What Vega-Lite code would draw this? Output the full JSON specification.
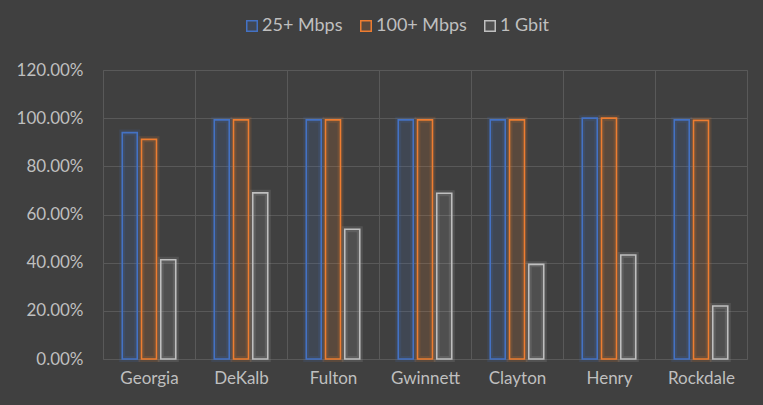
{
  "$schema": "https://vega.github.io/schema/vega-lite/v6.json",
  "width": 644,
  "height": 289,
  "autosize": {"type": "none"},
  "padding": {"left": 103, "top": 70, "right": 16, "bottom": 46},
  "background": "#404040",
  "config": {
    "font": "Lato",
    "view": {"stroke": "#595959", "strokeWidth": 1},
    "axis": {"labelColor": "#BFBFBF", "labelFontSize": 17, "gridColor": "#595959", "gridWidth": 1, "domain": false, "ticks": false, "tickSize": 0, "title": null}
  },
  "data": {
    "values": [
      {"county": "Georgia", "speed": "25+ Mbps", "value": 0.940},
      {"county": "Georgia", "speed": "100+ Mbps", "value": 0.912},
      {"county": "Georgia", "speed": "1 Gbit", "value": 0.412},
      {"county": "DeKalb", "speed": "25+ Mbps", "value": 0.993},
      {"county": "DeKalb", "speed": "100+ Mbps", "value": 0.993},
      {"county": "DeKalb", "speed": "1 Gbit", "value": 0.690},
      {"county": "Fulton", "speed": "25+ Mbps", "value": 0.993},
      {"county": "Fulton", "speed": "100+ Mbps", "value": 0.993},
      {"county": "Fulton", "speed": "1 Gbit", "value": 0.539},
      {"county": "Gwinnett", "speed": "25+ Mbps", "value": 0.993},
      {"county": "Gwinnett", "speed": "100+ Mbps", "value": 0.993},
      {"county": "Gwinnett", "speed": "1 Gbit", "value": 0.688},
      {"county": "Clayton", "speed": "25+ Mbps", "value": 0.993},
      {"county": "Clayton", "speed": "100+ Mbps", "value": 0.993},
      {"county": "Clayton", "speed": "1 Gbit", "value": 0.393},
      {"county": "Henry", "speed": "25+ Mbps", "value": 1.0},
      {"county": "Henry", "speed": "100+ Mbps", "value": 1.0},
      {"county": "Henry", "speed": "1 Gbit", "value": 0.432},
      {"county": "Rockdale", "speed": "25+ Mbps", "value": 0.993},
      {"county": "Rockdale", "speed": "100+ Mbps", "value": 0.991},
      {"county": "Rockdale", "speed": "1 Gbit", "value": 0.220}
    ]
  },
  "encoding": {
    "x": {
      "field": "county", "type": "nominal", "sort": null,
      "scale": {"paddingInner": 0, "paddingOuter": 0},
      "axis": {"labelAngle": 0, "tickBand": "extent", "grid": true, "labelPadding": 11}
    },
    "xOffset": {
      "field": "speed", "type": "nominal",
      "sort": ["25+ Mbps", "100+ Mbps", "1 Gbit"],
      "scale": {"paddingInner": 0.22, "paddingOuter": 1.0}
    },
    "y": {
      "field": "value", "type": "quantitative",
      "scale": {"domain": [0, 1.2], "nice": false},
      "axis": {"values": [0, 0.2, 0.4, 0.6, 0.8, 1.0, 1.2], "format": ".2%", "grid": true, "labelPadding": 20}
    }
  },
  "layer": [
    {
      "mark": {"type": "bar", "filled": false, "strokeWidth": 6, "strokeOpacity": 0.15},
      "encoding": {
        "stroke": {"field": "speed", "type": "nominal",
          "scale": {"domain": ["25+ Mbps", "100+ Mbps", "1 Gbit"], "range": ["#4472C4", "#ED7D31", "#BFBFBF"]},
          "legend": {
            "title": null, "orient": "none", "legendX": 140, "legendY": -53,
            "direction": "horizontal", "symbolType": "square", "symbolSize": 110,
            "labelFontSize": 18, "labelColor": "#BFBFBF",
            "labelOffset": 1, "columnPadding": 14, "padding": 0,
            "encode": {"symbols": {"strokeWidth": {"value": 1.5}, "opacity": {"value": 1}, "strokeOpacity": {"value": 1}}}
          }}
      }
    },
    {
      "mark": {"type": "bar", "strokeWidth": 0},
      "encoding": {
        "fill": {"field": "speed", "type": "nominal",
          "scale": {"domain": ["25+ Mbps", "100+ Mbps", "1 Gbit"], "range": ["rgba(68,114,196,0.15)", "rgba(237,125,49,0.15)", "rgba(191,191,191,0.12)"]},
          "legend": null}
      }
    },
    {
      "mark": {"type": "bar", "filled": false, "strokeWidth": 1.6},
      "encoding": {
        "stroke": {"field": "speed", "type": "nominal",
          "scale": {"domain": ["25+ Mbps", "100+ Mbps", "1 Gbit"], "range": ["#4472C4", "#ED7D31", "#BFBFBF"]}}
      }
    }
  ]
}
